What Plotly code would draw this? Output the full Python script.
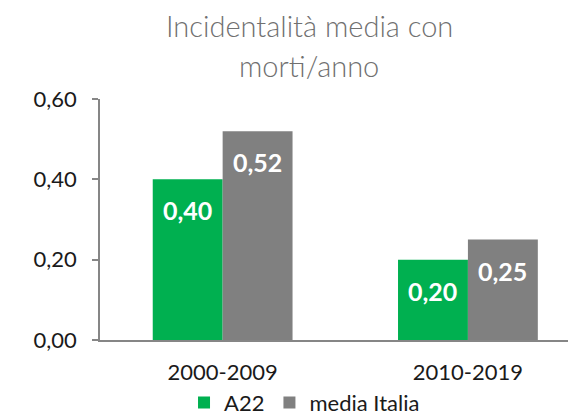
import plotly.graph_objects as go

periods = ['2000-2009', '2010-2019']
a22 = [0.40, 0.20]
media_italia = [0.52, 0.25]
series_names = ['A22', 'media Italia']
title_lines = ['Incidentalità media con', 'morti/anno']

green = '#00B050'
grey = '#808080'
font = 'Lato'

fig = go.Figure()
fig.add_trace(go.Bar(x=periods, y=a22, name=series_names[0],
                     marker_color=green, marker_line_width=0))
fig.add_trace(go.Bar(x=periods, y=media_italia, name=series_names[1],
                     marker_color=grey, marker_line_width=0))

# value labels just inside the top of each bar
for vals, shift in [(a22, -35), (media_italia, 35)]:
    for p, v in zip(periods, vals):
        fig.add_annotation(x=p, y=v, xshift=shift, yshift=-31,
                           text=f'{v:.2f}'.replace('.', ','),
                           showarrow=False, yanchor='middle',
                           font=dict(family=font, size=25, color='white',
                                     weight='bold'))

# two-line title
for i, line in enumerate(title_lines):
    fig.add_annotation(xref='paper', yref='paper', x=0.447,
                       y=1.305 - i * 0.165, text=line, showarrow=False,
                       yanchor='middle',
                       font=dict(family=font, size=29, color='#707070',
                                 weight=300))

fig.update_layout(
    width=568, height=416,
    margin=dict(l=100, r=0, t=99, b=76, autoexpand=False),
    paper_bgcolor='white', plot_bgcolor='white',
    barmode='group', bargap=0.43, bargroupgap=0,
    separators=',.',
    font=dict(family=font, size=22, color='#1a1a1a'),
    showlegend=True,
    legend=dict(orientation='h', x=0.437, xanchor='center', y=-0.26,
                yanchor='middle', font=dict(size=22), itemwidth=30,
                traceorder='normal'),
)
fig.update_xaxes(range=[-0.5, 1.408], showline=True, linecolor='#868686',
                 linewidth=1.5, showgrid=False, ticks='',
                 tickfont=dict(size=22), ticklabelstandoff=12,
                 automargin=False)
fig.update_yaxes(range=[0, 0.6], tickvals=[0, 0.2, 0.4, 0.6],
                 tickformat='.2f', showline=True, linecolor='#868686',
                 linewidth=1.5, showgrid=False, zeroline=False,
                 ticks='outside', ticklen=6, tickcolor='#868686',
                 tickwidth=1.5, ticklabelstandoff=11, automargin=False)

# page has a default body margin; remove it so the figure fills the window
fig.write_html('out.html', config={'displayModeBar': False},
               post_script="document.body.style.margin='0';")
